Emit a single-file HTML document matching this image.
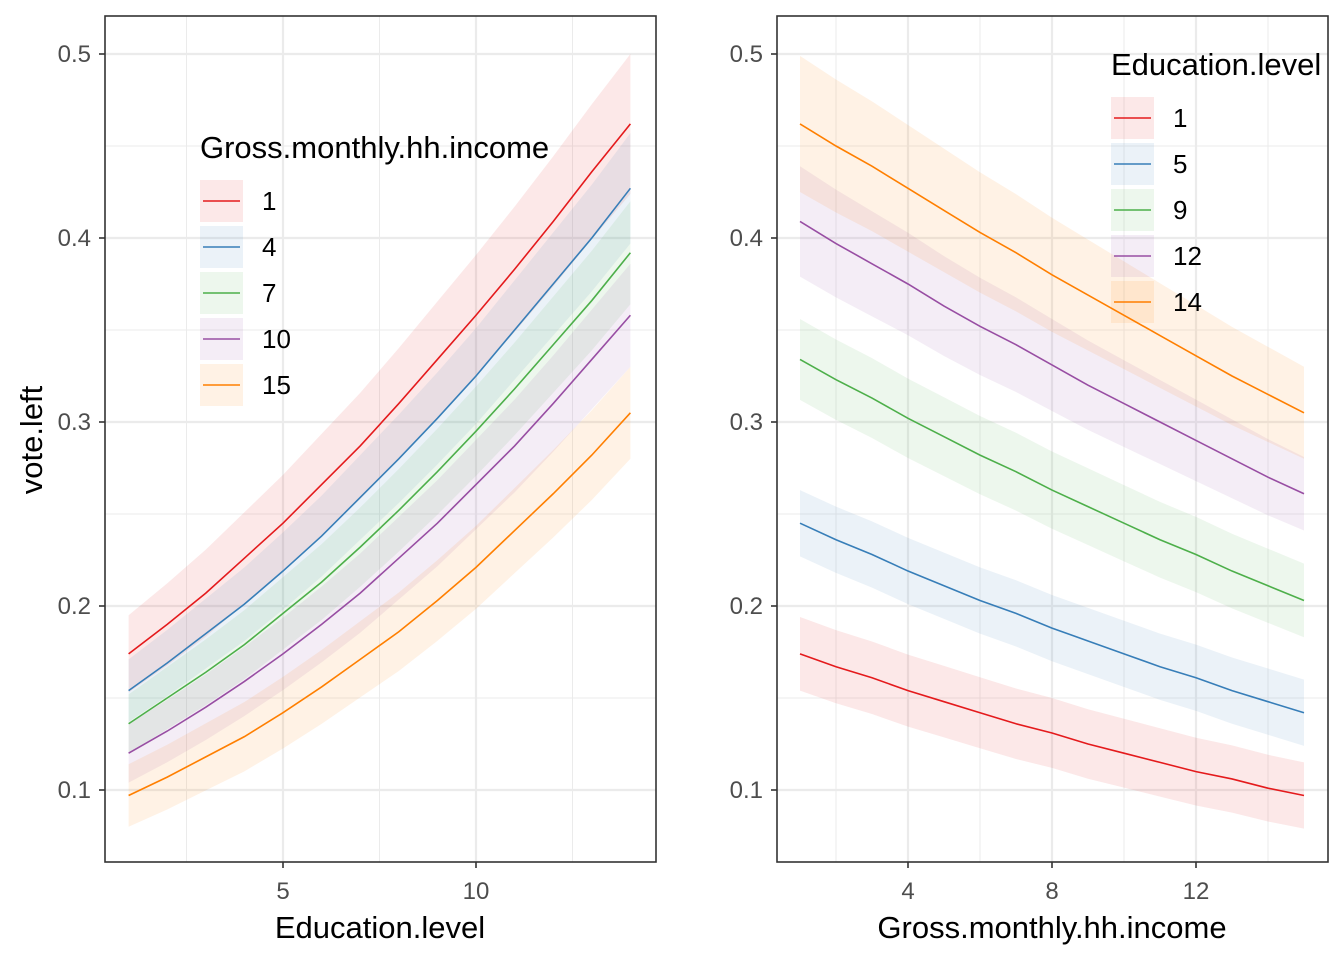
<!DOCTYPE html>
<html><head><meta charset="utf-8"><style>
html,body{margin:0;padding:0;background:#fff;}
svg{display:block;font-family:"Liberation Sans",Arial,sans-serif;}
</style></head><body>
<svg id="chart" width="1344" height="960" viewBox="0 0 1344 960" xmlns="http://www.w3.org/2000/svg"></svg>
<script>
const colors = ["#E41A1C","#377EB8","#4DAF4A","#984EA3","#FF7F00"];
// Left panel: x = Education.level, series = income
const leftX = [1,2,3,4,5,6,7,8,9,10,11,12,13,14];
const leftLabels = ["1","4","7","10","15"];
const leftS1 = [0.174,0.190,0.207,0.226,0.245,0.266,0.287,0.310,0.334,0.358,0.383,0.409,0.436,0.462];
const leftS2 = [0.154,0.169,0.185,0.201,0.219,0.238,0.259,0.280,0.302,0.325,0.350,0.375,0.400,0.427];
const leftS3 = [0.136,0.150,0.164,0.179,0.196,0.213,0.232,0.252,0.273,0.295,0.318,0.342,0.366,0.392];
const leftS4 = [0.120,0.132,0.145,0.159,0.174,0.190,0.207,0.226,0.245,0.266,0.287,0.310,0.334,0.358];
const leftS5 = [0.097,0.107,0.118,0.129,0.142,0.156,0.171,0.186,0.203,0.221,0.241,0.261,0.282,0.305];
const leftHalfStart = [0.021,0.017,0.016,0.016,0.017];
const leftHalfEnd = [0.038,0.030,0.028,0.028,0.025];
// Right panel: x = income, series = education
const rightX = [1,2,3,4,5,6,7,8,9,10,11,12,13,14,15];
const rightLabels = ["1","5","9","12","14"];
const rightS1 = [0.174,0.167,0.161,0.154,0.148,0.142,0.136,0.131,0.125,0.120,0.115,0.110,0.106,0.101,0.097];
const rightS2 = [0.245,0.236,0.228,0.219,0.211,0.203,0.196,0.188,0.181,0.174,0.167,0.161,0.154,0.148,0.142];
const rightS3 = [0.334,0.323,0.313,0.302,0.292,0.282,0.273,0.263,0.254,0.245,0.236,0.228,0.219,0.211,0.203];
const rightS4 = [0.409,0.397,0.386,0.375,0.363,0.352,0.342,0.331,0.320,0.310,0.300,0.290,0.280,0.270,0.261];
const rightS5 = [0.462,0.450,0.439,0.427,0.415,0.403,0.392,0.380,0.369,0.358,0.347,0.336,0.325,0.315,0.305];
const rightHalfStart = [0.020,0.018,0.022,0.030,0.037];
const rightHalfEnd = [0.018,0.018,0.020,0.020,0.025];
const yTicks = [0.1,0.2,0.3,0.4,0.5];
const yTickLabels = ["0.1","0.2","0.3","0.4","0.5"];
const yMinor = [0.15,0.25,0.35,0.45];
const leftXTicks = [5,10];
const leftXMinor = [2.5,7.5,12.5];
const rightXTicks = [4,8,12];
const rightXMinor = [2,6,10,14];

const NS="http://www.w3.org/2000/svg";
const svg=document.getElementById('chart');
function mk(tag,attrs,parent){const e=document.createElementNS(NS,tag);for(const k in attrs)e.setAttribute(k,attrs[k]);(parent||svg).appendChild(e);return e;}
const yScale=v=>790+(v-0.1)*(54-790)/0.4;

function panel(name,left,right,xs,xmin,xmax,xPxMin,xPxMax,series,hs,he,majors,minors,title,legTitle,labels,legX,legY,titleX){
  const xScale=v=>xPxMin+(v-xmin)*(xPxMax-xPxMin)/(xmax-xmin);
  const g=mk('g',{});
  
  
  yMinor.forEach(v=>{const l=mk('line',{x1:left,x2:right,y1:yScale(v),y2:yScale(v),stroke:'#ebebeb','stroke-width':1},g);});
  minors.forEach(v=>{const l=mk('line',{x1:xScale(v),x2:xScale(v),y1:16,y2:862,stroke:'#ebebeb','stroke-width':1},g);});
  yTicks.forEach(v=>{const l=mk('line',{x1:left,x2:right,y1:yScale(v),y2:yScale(v),stroke:'#ebebeb','stroke-width':2.2},g);});
  majors.forEach(v=>{const l=mk('line',{x1:xScale(v),x2:xScale(v),y1:16,y2:862,stroke:'#ebebeb','stroke-width':2.2},g);});
  series.forEach((s,k)=>{
    const n=s.length;let up=[],lo=[];
    for(let i=0;i<n;i++){const h=hs[k]+(he[k]-hs[k])*i/(n-1);up.push(xScale(xs[i])+','+yScale(s[i]+h));lo.unshift(xScale(xs[i])+','+yScale(s[i]-h));}
    const p=mk('polygon',{points:up.concat(lo).join(' '),fill:colors[k],'fill-opacity':0.1},g);
    
    
  });
  series.forEach((s,k)=>{
    const p=mk('polyline',{points:s.map((v,i)=>xScale(xs[i])+','+yScale(v)).join(' '),fill:'none',stroke:colors[k],'stroke-width':1.6},g);
    
    
  });
  const fr=mk('rect',{x:left,y:16,width:right-left,height:846,fill:'none',stroke:'#333','stroke-width':1.6},g);
  
  yTicks.forEach((v,i)=>{
    mk('line',{x1:left-6,x2:left,y1:yScale(v),y2:yScale(v),stroke:'#333','stroke-width':1.6},g);
    const t=mk('text',{x:left-14,y:yScale(v)+8,'text-anchor':'end','font-size':24,fill:'#4d4d4d'},g);t.textContent=yTickLabels[i];
    
  });
  majors.forEach(v=>{
    mk('line',{x1:xScale(v),x2:xScale(v),y1:862,y2:868,stroke:'#333','stroke-width':1.6},g);
    const t=mk('text',{x:xScale(v),y:899,'text-anchor':'middle','font-size':24,fill:'#4d4d4d'},g);t.textContent=String(v);
    
  });
  const xt=mk('text',{x:titleX,y:938,'text-anchor':'middle','font-size':31,fill:'#000'},g);xt.textContent=title;
  
  const lg=mk('g',{},g);
  const lt=mk('text',{x:legX,y:legY,'font-size':31,fill:'#000'},lg);lt.textContent=legTitle;
  
  labels.forEach((lab,k)=>{
    const cy=legY+43+k*46;
    const e=mk('g',{},lg);
    mk('rect',{x:legX,y:cy-21,width:43,height:42,fill:colors[k],'fill-opacity':0.1},e);
    mk('line',{x1:legX+3,x2:legX+40,y1:cy,y2:cy,stroke:colors[k],'stroke-width':1.6},e);
    const t=mk('text',{x:legX+62,y:cy+9,'font-size':26,fill:'#000'},e);t.textContent=lab;
  });
}
panel('left',105,656,leftX,1,14,128.6,630.4,[leftS1,leftS2,leftS3,leftS4,leftS5],leftHalfStart,leftHalfEnd,leftXTicks,leftXMinor,'Education.level','Gross.monthly.hh.income',leftLabels,200,158,380);
panel('right',777,1328,rightX,1,15,800,1304,[rightS1,rightS2,rightS3,rightS4,rightS5],rightHalfStart,rightHalfEnd,rightXTicks,rightXMinor,'Gross.monthly.hh.income','Education.level',rightLabels,1111,75,1052);
const yt=mk('text',{x:0,y:0,'text-anchor':'middle','font-size':31,fill:'#000',transform:'translate(42,440) rotate(-90)'});
yt.textContent='vote.left';


</script>
</body></html>
